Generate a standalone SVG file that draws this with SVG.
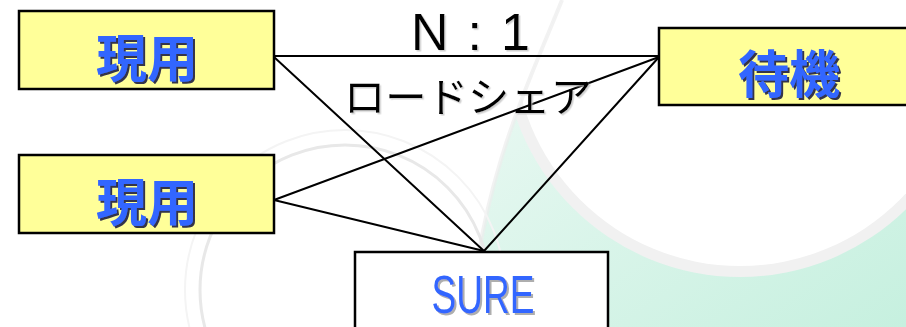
<svg xmlns="http://www.w3.org/2000/svg" width="906" height="327" viewBox="0 0 906 327">
<defs>
<linearGradient id="teal" x1="0" y1="0" x2="1" y2="1">
<stop offset="0" stop-color="#f0faf6"/>
<stop offset="1" stop-color="#c6f0df"/>
</linearGradient>
<clipPath id="greenClip">
<path d="M562,0 C530,80 480,180 470,327 L906,327 L906,0 Z"/>
</clipPath>
<filter id="shNavy" x="-10%" y="-10%" width="130%" height="130%">
<feDropShadow dx="2" dy="2" stdDeviation="0.3" flood-color="#1a1a40" flood-opacity="0.9"/>
</filter>
<filter id="shGray" x="-10%" y="-10%" width="130%" height="130%">
<feDropShadow dx="2" dy="2" stdDeviation="0.3" flood-color="#9a9a9a" flood-opacity="0.8"/>
</filter>
<filter id="shLight" x="-10%" y="-10%" width="130%" height="130%">
<feDropShadow dx="1.5" dy="1.5" stdDeviation="0.3" flood-color="#bbbbbb" flood-opacity="0.7"/>
</filter>
</defs>
<style>
.box{fill:#ffff99;stroke:#000;stroke-width:2.5}
.wbox{fill:#fff;stroke:#000;stroke-width:2.5}
.jp{font-family:"Noto Sans CJK JP","Noto Sans CJK SC",sans-serif;font-weight:bold;font-size:51px;fill:#3366ff;text-anchor:middle;dominant-baseline:central;filter:url(#shNavy)}
.lbl{font-family:"Noto Sans CJK JP","Liberation Sans",sans-serif;font-size:41px;fill:#000;filter:url(#shLight)}
.conn line{stroke:#000;stroke-width:2;stroke-linecap:round}
</style>
<g id="background">
<rect x="0" y="0" width="906" height="327" fill="#ffffff"/>
<g clip-path="url(#greenClip)">
<rect x="440" y="0" width="466" height="327" fill="url(#teal)"/>
<circle cx="740" cy="40" r="237" fill="#f1f1f1"/>
<circle cx="740" cy="40" r="226" fill="#ffffff"/>
</g>
<path d="M562,0 C530,80 480,180 470,327" fill="none" stroke="#ececec" stroke-width="4" opacity="0.7"/>
<circle cx="345" cy="290" r="145" fill="none" stroke="#e8e8e8" stroke-width="3"/>
<circle cx="345" cy="290" r="160" fill="none" stroke="#f4f4f4" stroke-width="2"/>
</g>
<g id="connectors" class="conn">
<line x1="274" y1="56" x2="659" y2="56"/>
<line x1="274" y1="57" x2="484" y2="251"/>
<line x1="274" y1="200" x2="659" y2="57"/>
<line x1="274" y1="200" x2="484" y2="251"/>
<line x1="659" y1="57" x2="484" y2="251"/>
</g>
<g id="label-n1">
<text x="411" y="50" textLength="119" lengthAdjust="spacing" class="lbl" style="font-family:'Liberation Sans',sans-serif;font-size:52px">N : 1</text>
</g>
<g id="label-loadshare">
<text x="344" y="112" textLength="248" lengthAdjust="spacingAndGlyphs" class="lbl">ロードシェア</text>
</g>
<g id="active1">
<rect x="19" y="11" width="255" height="78" class="box"/>
<text x="147" y="55" class="jp">現用</text>
</g>
<g id="active2">
<rect x="19" y="155" width="255" height="78" class="box"/>
<text x="147" y="199" class="jp">現用</text>
</g>
<g id="standby">
<rect x="659" y="28" width="260" height="77" class="box"/>
<text x="789" y="71" class="jp">待機</text>
</g>
<g id="sure">
<rect x="355" y="252" width="253" height="90" class="wbox"/>
<text x="483" y="313" textLength="103" lengthAdjust="spacingAndGlyphs" style="font-family:'Liberation Sans Narrow','Liberation Sans',sans-serif;font-size:53px;fill:#3366ff;text-anchor:middle;filter:url(#shGray)">SURE</text>
</g>
</svg>
